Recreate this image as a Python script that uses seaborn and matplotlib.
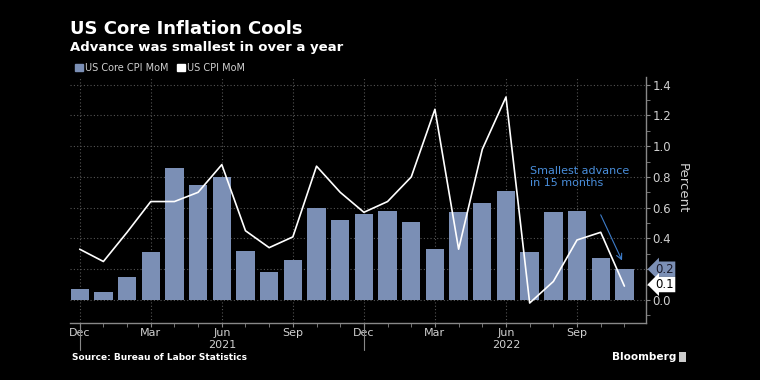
import numpy as np
import pandas as pd
import matplotlib
matplotlib.use("Agg")
import matplotlib.pyplot as plt
import seaborn as sns
from matplotlib.patches import Patch, Rectangle

# Monthly data, Dec 2020 - Nov 2022
months = ["2020-12", "2021-01", "2021-02", "2021-03", "2021-04", "2021-05",
          "2021-06", "2021-07", "2021-08", "2021-09", "2021-10", "2021-11",
          "2021-12", "2022-01", "2022-02", "2022-03", "2022-04", "2022-05",
          "2022-06", "2022-07", "2022-08", "2022-09", "2022-10", "2022-11"]
core_cpi = [0.07, 0.05, 0.15, 0.31, 0.86, 0.75, 0.80, 0.32, 0.18, 0.26, 0.60, 0.52,
            0.56, 0.58, 0.51, 0.33, 0.57, 0.63, 0.71, 0.31, 0.57, 0.58, 0.27, 0.20]
cpi = [0.33, 0.25, 0.44, 0.64, 0.64, 0.70, 0.88, 0.45, 0.34, 0.41, 0.87, 0.70,
       0.57, 0.64, 0.80, 1.24, 0.33, 0.98, 1.32, -0.02, 0.12, 0.39, 0.44, 0.09]
tick_labels = ["Dec", "Mar", "Jun", "Sep", "Dec", "Mar", "Jun", "Sep"]
year_labels = ["2021", "2022"]

bar_color = "#7b8fb5"
fg = "#d0d0d0"

df = pd.DataFrame({"month": months, "core": core_cpi, "cpi": cpi})
df["pos"] = np.arange(len(df))

sns.set_style("dark", {"axes.facecolor": "black", "figure.facecolor": "black"})
plt.rcParams["font.family"] = ["DejaVu Sans"]

fig = plt.figure(figsize=(7.6, 3.8), dpi=100)
ax = fig.add_axes([70 / 760, 1 - 323 / 380, (645.7 - 70) / 760, (323 - 77) / 380])
ax.set_facecolor("black")

sns.barplot(data=df, x="pos", y="core", native_scale=True, width=0.775,
            color=bar_color, saturation=1, edgecolor="none", linewidth=0, ax=ax)
sns.lineplot(data=df, x="pos", y="cpi", color="white", linewidth=1.2, ax=ax)

ax.set_xlim(-0.41, 23.9)
ax.set_ylim(-0.15, 1.45)

# y axis on right
ax.yaxis.tick_right()
yt = np.arange(0, 1.41, 0.2)
ax.set_yticks(yt)
ax.set_yticklabels(["" if abs(v - 0.2) < 1e-6 else f"{v:.1f}" for v in yt],
                   color=fg, fontsize=8.5)
ax.set_yticks(np.arange(-0.1, 1.45, 0.1), minor=True)
ax.tick_params(axis="y", which="both", right=True, length=3, color="#888888", pad=2)

# x axis
ax.set_xticks(np.arange(0, 24, 3))
ax.set_xticklabels(tick_labels, color=fg, fontsize=8)
ax.set_xticks(np.arange(0, 24, 1), minor=True)
ax.tick_params(axis="x", which="both", bottom=True, length=3, color="#888888", pad=0.5)

ax.set_xlabel("")
ax.set_ylabel("")
ax.grid(True, which="major", color="#555555", linestyle=(0, (1, 2)), linewidth=0.8)
for s in ["top", "left"]:
    ax.spines[s].set_visible(False)
for s in ["right", "bottom"]:
    ax.spines[s].set_visible(True)
    ax.spines[s].set_color("#888888")
    ax.spines[s].set_linewidth(1)

# year separators and labels
for p in [0, 12]:
    ax.axvline(p, ymin=-0.11, ymax=0, color="#888888", lw=0.8, clip_on=False)
for p, lab in zip([6, 18], year_labels):
    ax.text(p, -0.088, lab, transform=ax.get_xaxis_transform(), ha="center",
            va="center", color=fg, fontsize=8)

ax.text(1.063, 0.55, "Percent", transform=ax.transAxes, rotation=270,
        ha="center", va="center", color=fg, fontsize=9.5)

# last-value tags
ax.text(1.017, 0.2, "0.2", transform=ax.get_yaxis_transform(), ha="left", va="center",
        color="#1a1a2a", fontsize=8.5,
        bbox=dict(boxstyle="larrow,pad=0.1", fc=bar_color, ec="none"))
ax.text(1.017, 0.1, "0.1", transform=ax.get_yaxis_transform(), ha="left", va="center",
        color="black", fontsize=8.5,
        bbox=dict(boxstyle="larrow,pad=0.1", fc="white", ec="none"))

# annotation
ax.annotate("", xy=(22.95, 0.24), xytext=(21.95, 0.57),
            arrowprops=dict(arrowstyle="->", color="#3d7cc9", lw=0.8))
ax.text(19.0, 0.80, "Smallest advance\nin 15 months", color="#4a8fdc", fontsize=8,
        ha="left", va="center", linespacing=1.3)

# legend
handles = [Patch(color=bar_color, label="US Core CPI MoM"),
           Patch(color="white", label="US CPI MoM")]
leg = fig.legend(handles=handles, loc="center left", bbox_to_anchor=(66 / 760, 1 - 68 / 380),
                 ncol=2, frameon=False, fontsize=7, handlelength=0.8, handleheight=0.8,
                 handletextpad=0.3, columnspacing=0.8)
for t in leg.get_texts():
    t.set_color(fg)

fig.text(70 / 760, 1 - 29 / 380, "US Core Inflation Cools", color="white", fontsize=13,
         fontweight="bold", va="center")
fig.text(70 / 760, 1 - 47 / 380, "Advance was smallest in over a year", color="white",
         fontsize=9.5, fontweight="bold", va="center")
fig.text(72 / 760, 1 - 358 / 380, "Source: Bureau of Labor Statistics", color="white",
         fontsize=6.5, fontweight="bold", va="center")
fig.text(612 / 760, 1 - 357 / 380, "Bloomberg", color="white", fontsize=7.6,
         fontweight="bold", va="center")
fig.patches.append(Rectangle((679 / 760, 1 - 362 / 380), 7 / 760, 10 / 380,
                             transform=fig.transFigure, fc="#cccccc", ec="none"))

fig.savefig("out.png", dpi=100, facecolor="black")
